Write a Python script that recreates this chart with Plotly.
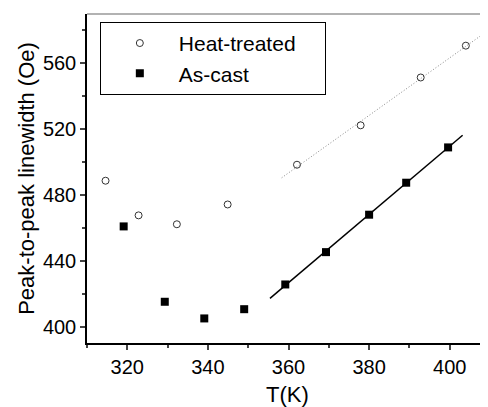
import numpy as np
import plotly.graph_objects as go

# Heat-treated sample
heat_T = [314.6, 322.8, 332.3, 344.9, 362.1, 377.9, 392.8, 404.0]
heat_w = [488.4, 467.4, 462.0, 474.0, 498.1, 522.0, 551.0, 570.3]
# As-cast sample
cast_T = [319.1, 329.3, 339.1, 349.0, 359.2, 369.3, 380.0, 389.2, 399.6]
cast_w = [460.7, 415.0, 404.9, 410.5, 425.5, 445.1, 467.8, 487.2, 508.6]

# linear fits over high-temperature points
heat_fit_idx = slice(4, 8)
cast_fit_idx = slice(4, 9)
heat_fit_range = [358.3, 407.6]
cast_fit_range = [355.4, 403.2]

x_ticks = [320, 340, 360, 380, 400]
y_ticks = [400, 440, 480, 520, 560]

hp = np.polyfit(heat_T[heat_fit_idx], heat_w[heat_fit_idx], 1)
cp = np.polyfit(cast_T[cast_fit_idx], cast_w[cast_fit_idx], 1)
hx = np.array(heat_fit_range)
cx = np.array(cast_fit_range)

font = "Liberation Sans, Arial, sans-serif"

fig = go.Figure()
fig.add_trace(go.Scatter(x=hx, y=np.polyval(hp, hx), mode="lines",
                         line=dict(color="#888888", width=1, dash="1px,2px"),
                         showlegend=False, hoverinfo="skip"))
fig.add_trace(go.Scatter(x=cx, y=np.polyval(cp, cx), mode="lines",
                         line=dict(color="black", width=1.5),
                         showlegend=False, hoverinfo="skip"))
fig.add_trace(go.Scatter(x=heat_T, y=heat_w, mode="markers", name="Heat-treated\u00a0\u00a0\u00a0\u00a0",
                         marker=dict(symbol="circle-open", size=7,
                                     color="#333333", line=dict(width=1))))
fig.add_trace(go.Scatter(x=cast_T, y=cast_w, mode="markers", name="As-cast",
                         marker=dict(symbol="square", size=8, color="black")))

fig.add_shape(type="line", xref="paper", yref="paper", x0=0, x1=1, y0=1, y1=1,
              line=dict(color="#999999", width=1.5))

fig.update_layout(
    width=488, height=407,
    margin=dict(l=79, r=8, t=6, b=72),
    plot_bgcolor="white", paper_bgcolor="white",
    font=dict(family=font, color="black", size=20),
    legend=dict(x=0.032, y=0.976, xanchor="left", yanchor="top",
                bordercolor="black", borderwidth=1, bgcolor="white",
                font=dict(size=21), itemwidth=68,
                tracegroupgap=0),
    xaxis=dict(range=[310, 409.5], tickvals=x_ticks, ticks="outside", ticklen=5,
               tickwidth=1.5, showline=True, linecolor="black", linewidth=1.5,
               showgrid=False, zeroline=False, automargin=False,
               minor=dict(ticks="outside", ticklen=3, tickwidth=1.5, dtick=10, tick0=310),
               title=dict(text="T(K)", font=dict(size=22), standoff=10)),
    yaxis=dict(range=[390, 589.5], tickvals=y_ticks, ticks="outside", ticklen=5,
               tickwidth=1.5, showline=True, linecolor="black", linewidth=1.5,
               showgrid=False, zeroline=False, automargin=False,
               minor=dict(ticks="outside", ticklen=3, tickwidth=1.5, dtick=20, tick0=400),
               title=dict(text="Peak-to-peak linewidth (Oe)", font=dict(size=22), standoff=2)),
)

fig.write_html("out.html")
